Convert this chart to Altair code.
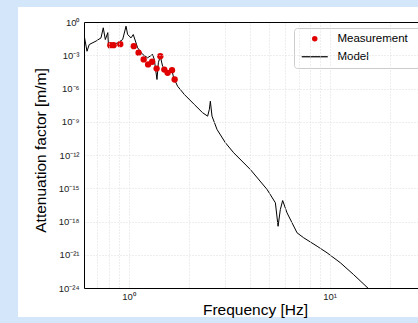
import altair as alt
import pandas as pd

# Model curve (frequency in Hz, attenuation factor)
model_freq = [0.602, 0.621, 0.637, 0.689, 0.729, 0.748, 0.766, 0.788, 0.795, 0.833,
              0.882, 0.934, 0.971, 0.989, 1.028, 1.055, 1.109, 1.174, 1.243, 1.316,
              1.342, 1.384, 1.406, 1.438, 1.476, 1.563, 1.636, 1.675, 1.753, 1.893,
              2.123, 2.334, 2.472, 2.521, 2.55, 2.599, 2.753, 3.027, 3.330, 4.033,
              4.882, 5.370, 5.538, 5.684, 5.837, 6.138, 6.884, 7.424, 8.658, 9.707,
              11.30, 13.16, 15.63, 17.0]
model_val = [5.2e-2, 2.3e-3, 9.3e-3, 1.9e-2, 3.7e-2, 3.0e-1, 2.6e-2, 1.1e-1, 4.7e-3, 9.3e-3,
             1.3e-2, 2.6e-2, 4.2e-1, 7.4e-2, 3.7e-2, 7.4e-2, 4.7e-3, 1.2e-3, 5.9e-4, 1.2e-3,
             4.2e-4, 6.5e-6, 2.1e-4, 8.1e-4, 1.0e-4, 3.6e-5, 6.0e-5, 9.3e-6, 1.6e-6, 2.9e-7,
             3.6e-8, 6.5e-9, 3.2e-9, 1.3e-8, 7.1e-8, 3.2e-9, 2.0e-10, 1.3e-11, 1.6e-12, 4.9e-14,
             7.8e-16, 4.9e-17, 3.7e-19, 1.2e-17, 7.8e-17, 6.0e-18, 9.5e-20, 3.4e-20, 5.9e-21, 1.5e-21,
             1.9e-22, 1.6e-23, 8.5e-25, 1.6e-25]

# Measurements
meas_freq = [0.811, 0.842, 0.909, 1.061, 1.121, 1.188, 1.250, 1.310, 1.378, 1.438,
             1.505, 1.563, 1.644, 1.694]
meas_val = [8.1e-3, 8.1e-3, 1.0e-2, 6.6e-3, 1.7e-3, 4.2e-4, 1.5e-4, 2.6e-4, 6.3e-5, 8.1e-4,
            5.1e-5, 2.6e-5, 4.5e-5, 6.5e-6]

series_names = ["Measurement", "Model"]
series_colors = ["#e00000", "#000000"]
series_shapes = ["circle", "M-4.75,-0.22H4.75V0.22H-4.75Z"]

x_ticks = [0.6, 0.7, 0.8, 0.9, 1, 2, 3, 4, 5, 6, 7, 8, 9, 10, 20, 30]
y_exps = [0, -3, -6, -9, -12, -15, -18, -21, -24]
y_ticks = [10.0 ** e for e in y_exps]

SUP = str.maketrans("0123456789-", "⁰¹²³⁴⁵⁶⁷⁸⁹⁻")
y_expr = " : ".join(
    f"abs(log(datum.value)/LN10 - ({e})) < 0.1 ? '10{str(e).translate(SUP)}'" for e in y_exps
) + " : ''"
x_expr = "abs(datum.value - 1) < 0.001 ? '10⁰' : (abs(datum.value - 10) < 0.01 ? '10¹' : '')"

model_df = pd.DataFrame({"f": model_freq, "v": model_val})
meas_df = pd.DataFrame({"f": meas_freq, "v": meas_val, "series": ["Measurement"] * len(meas_freq)})

FONT = "Liberation Sans"
xscale = alt.Scale(type="log", domain=[0.6, 27.5], nice=False)
yscale = alt.Scale(type="log", domain=[1e-24, 1], nice=False)

panel = alt.Chart(pd.DataFrame({"a": [0]})).mark_rect(color="white").encode(
    x=alt.value(-66), x2=alt.value(340), y=alt.value(-15), y2=alt.value(295)
)

line = alt.Chart(model_df).mark_line(color="black", strokeWidth=1, clip=True).encode(
    x=alt.X("f:Q", scale=xscale,
            axis=alt.Axis(orient="bottom", values=x_ticks, labelExpr=x_expr, title="Frequency [Hz]",
                          grid=True, ticks=False, labelPadding=3, labelFontSize=9.5, zindex=1,
                          titleX=171, titleY=26, titleBaseline="alphabetic", titleAlign="center",
                          titleFontSize=15.5, titleFontWeight="normal")),
    y=alt.Y("v:Q", scale=yscale,
            axis=alt.Axis(values=y_ticks, labelExpr=y_expr, title="Attenuation factor [m/m]",
                          grid=True, ticks=False, labelPadding=5, labelFontSize=9.5, zindex=1,
                          titleX=-44, titleY=128, titleBaseline="middle", titleAlign="center",
                          titleAngle=-90, titleFontSize=15.5, titleFontWeight="normal")),
)

PAD = "\u2800"
leg = dict(orient="none", legendX=210, legendY=6, title=None,
           labelExpr=f"datum.label + '{PAD}'")

points = alt.Chart(meas_df).mark_point(filled=True, size=40, opacity=1).encode(
    x=alt.X("f:Q", scale=xscale,
            axis=alt.Axis(orient="top", values=x_ticks, labels=False, ticks=False, grid=False,
                          title=None, domainColor="black", zindex=1)),
    y=alt.Y("v:Q", scale=yscale),
    color=alt.Color("series:N", scale=alt.Scale(domain=series_names, range=series_colors),
                    legend=alt.Legend(**leg)),
    shape=alt.Shape("series:N", scale=alt.Scale(domain=series_names, range=series_shapes),
                    legend=alt.Legend(**leg)),
)

chart = alt.layer(panel, line, points).resolve_axis(x="independent").properties(
    width=334, height=266,
    autosize=alt.AutoSizeParams(type="none"),
    padding={"left": 84, "top": 22, "right": 0, "bottom": 35},
    background="#d4e6f9",
).configure_view(stroke=None, fill="white").configure_axis(
    labelFont=FONT, titleFont=FONT, labelColor="#222222", titleColor="#000000",
    domainColor="#000000", domainWidth=1, gridColor="#dcdcdc", gridDash=[1, 2], gridWidth=1,
).configure_legend(
    labelFont=FONT, labelFontSize=11.5, labelColor="#000000", fillColor="white",
    strokeColor="#cccccc", cornerRadius=3, padding=5, rowPadding=5, symbolSize=30,
    symbolStrokeWidth=0, symbolOffset=10, labelOffset=17,
)

chart.save("out.html", embed_options={"renderer": "svg", "actions": False})
